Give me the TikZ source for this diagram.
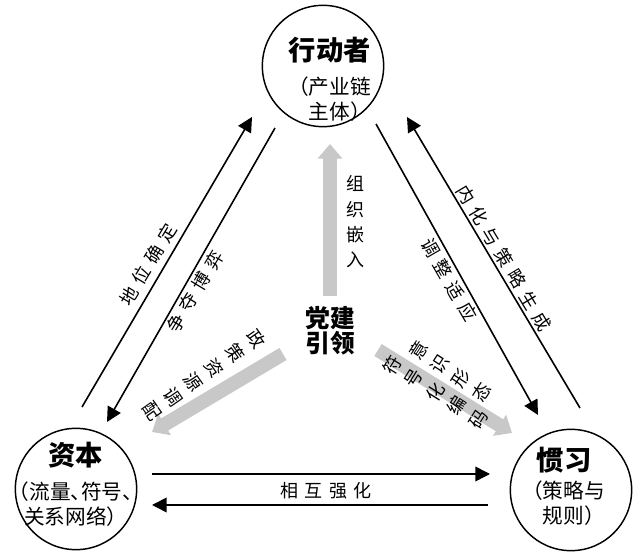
\documentclass[tikz,border=0pt]{standalone}
\usepackage{fontspec}
\setmainfont{Noto Sans CJK SC}
\newfontfamily\dgnarrow{Noto Sans CJK SC}[RawFeature=+halt]
\usetikzlibrary{arrows.meta}
\definecolor{dgFlow}{HTML}{C8C8C8}
\newcommand{\dghead}{\bfseries\fontsize{20.5}{20.5}\selectfont}
\newcommand{\gapch}{\hspace{5pt}}
\tikzset{
  dg diagram/.style={x=0.75pt, y=-0.75pt, line join=miter},
  dg circle/.style={draw, circle, line width=1.1pt, minimum size=91pt, inner sep=0pt},
  dg title/.style={align=center, font=\fontsize{15.5}{18.5}\selectfont, inner sep=0pt},
  dg hub/.style={align=center, font=\bfseries\fontsize{18.5}{18.75}\selectfont, inner sep=0pt},
  dg arrow/.style={-{Triangle[length=11pt, width=11pt]}, line width=1.2pt},
  dg flow/.style={-{Triangle[length=11pt, width=18pt]}, draw=dgFlow, line width=10.5pt},
  dg label/.style={font=\fontsize{13.5}{19}\selectfont, inner sep=0pt},
  dg column/.style={dg label, align=center}
}
\begin{document}
\begin{tikzpicture}[dg diagram]
\useasboundingbox (0,0) rectangle (633,552);
% the three fields
\node[dg circle] (act) at (323,66) {};
\node[dg circle] (cap) at (76,489) {};
\node[dg circle] (hab) at (571,490) {};
\node[dg title, align=right, anchor=east] (act-t) at (371,79) {{\dghead 行动者}\\[7pt]（产业链\\主体）};
\node[dg title] (cap-t) at (76,484) {{\dghead 资本}\\[7pt]{\dgnarrow （流量、符号、}\\关系网络）};
\node[dg title, align=right, anchor=east] (hab-t) at (605,486) {{\dghead 惯习}\hspace*{10pt}\\[3pt]（策略与\\规则）};
\node[dg hub] (hub) at (330,331) {党建\\引领};

% black arrows
\coordinate (l-out-a) at (82,407);
\coordinate (l-out-b) at (252,117);
\coordinate (l-in-a) at (275,128);
\coordinate (l-in-b) at (107,422);
\coordinate (r-out-a) at (580,408);
\coordinate (r-out-b) at (407,117);
\coordinate (r-in-a) at (376,124);
\coordinate (r-in-b) at (538,415);
\coordinate (b-top-a) at (152,474);
\coordinate (b-top-b) at (490,474);
\coordinate (b-bot-a) at (488,505);
\coordinate (b-bot-b) at (152,505);
\draw[dg arrow] (l-out-a) -- (l-out-b);
\draw[dg arrow] (l-in-a) -- (l-in-b);
\draw[dg arrow] (r-out-a) -- (r-out-b);
\draw[dg arrow] (r-in-a) -- (r-in-b);
\draw[dg arrow] (b-top-a) -- (b-top-b);
\draw[dg arrow] (b-bot-a) -- (b-bot-b);
\node[dg label, rotate=59] (l-out-t) at (148,265) {地\gapch 位\gapch 确\gapch 定};
\node[dg label, rotate=59] (l-in-t) at (195,292) {争\gapch 夺\gapch 博\gapch 弈};
\node[dg label, rotate=-59] (r-out-t) at (504,258) {内\gapch 化\gapch 与\gapch 策\gapch 略\gapch 生\gapch 成};
\node[dg label, rotate=-60] (r-in-t) at (449,280) {调\gapch 整\gapch 适\gapch 应};
\node[dg label] (b-t) at (326,491) {相\gapch 互\gapch 强\gapch 化};

% grey flows from the hub
\coordinate (f-up-a) at (330,296);
\coordinate (f-up-b) at (330,144);
\coordinate (f-l-a) at (283,354);
\coordinate (f-l-b) at (152,432);
\coordinate (f-r-a) at (378,350);
\coordinate (f-r-b) at (512,433);
\draw[dg flow] (f-up-a) -- (f-up-b);
\draw[dg flow] (f-l-a) -- (f-l-b);
\draw[dg flow] (f-r-a) -- (f-r-b);
\node[dg column] (f-up-t) at (355,222) {组\\织\\嵌\\入};
\node[dg column, rotate=-55] (f-l-t) at (204,375) {政\\策\\资\\源\\调\\配};
\node[dg column, rotate=57] (f-r-t1) at (450,371) {意\\识\\形\\态};
\node[dg column, rotate=58] (f-r-t2) at (435,392) {符\\号\\化\\编\\码};
\end{tikzpicture}
\end{document}
